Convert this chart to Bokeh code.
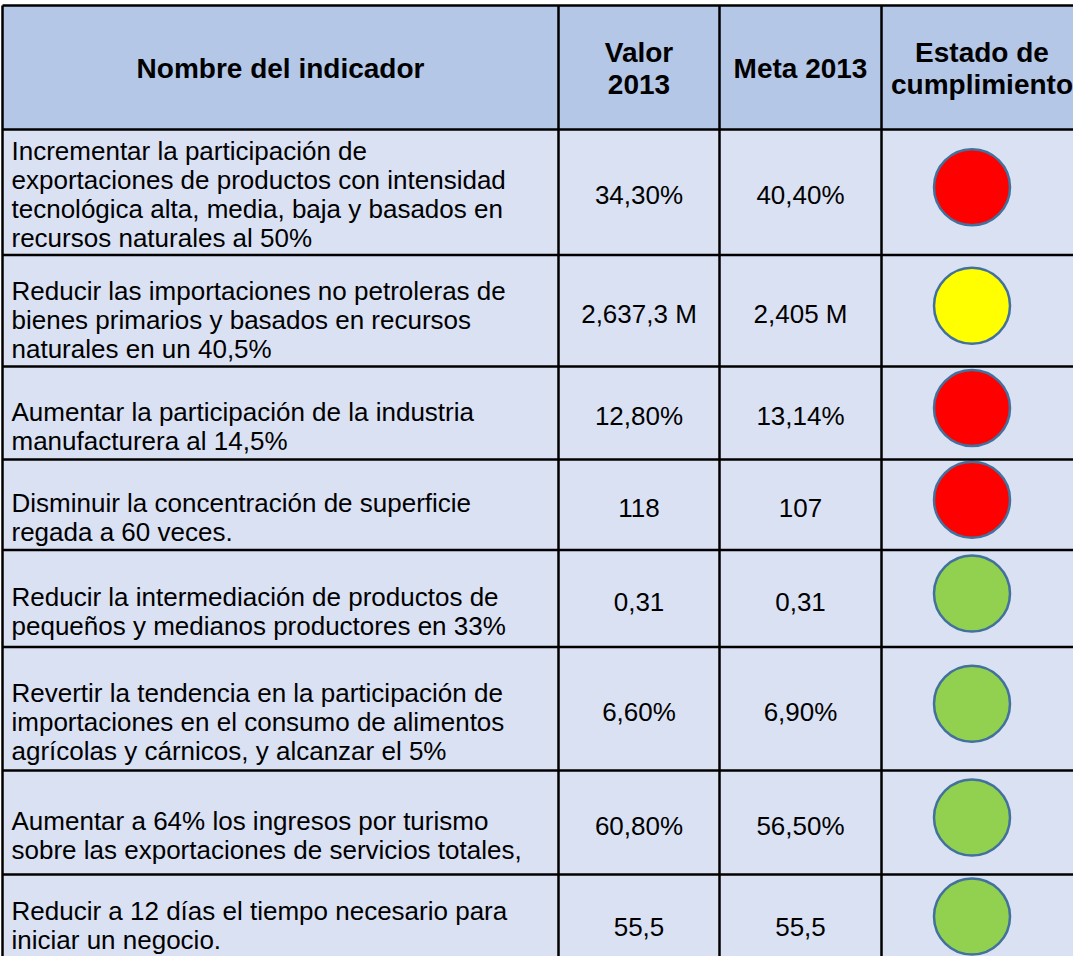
from bokeh.plotting import figure
from bokeh.models import Range1d
from bokeh.embed import file_html
from bokeh.resources import INLINE
from bokeh.core.properties import value

# ---------------- data ----------------
encabezados = ["Nombre del indicador", "Valor\n2013", "Meta 2013", "Estado de\ncumplimiento"]

indicadores = [
    "Incrementar la participación de\nexportaciones de productos con intensidad\ntecnológica alta, media, baja y basados en\nrecursos naturales al 50%",
    "Reducir las importaciones no petroleras de\nbienes primarios y basados en recursos\nnaturales en un 40,5%",
    "Aumentar la participación de la industria\nmanufacturera al 14,5%",
    "Disminuir la concentración de superficie\nregada a 60 veces.",
    "Reducir la intermediación de productos de\npequeños y medianos productores en 33%",
    "Revertir la tendencia en la participación de\nimportaciones en el consumo de alimentos\nagrícolas y cárnicos, y alcanzar el 5%",
    "Aumentar a 64% los ingresos por turismo\nsobre las exportaciones de servicios totales,",
    "Reducir a 12 días el tiempo necesario para\niniciar un negocio.",
]
valor_2013 = ["34,30%", "2,637,3 M", "12,80%", "118", "0,31", "6,60%", "60,80%", "55,5"]
meta_2013 = ["40,40%", "2,405 M", "13,14%", "107", "0,31", "6,90%", "56,50%", "55,5"]
estado = ["rojo", "amarillo", "rojo", "rojo", "verde", "verde", "verde", "verde"]

# ---------------- layout / style ----------------
col_edges = [10, 566, 727, 889, 1090]
row_edges = [13, 137, 262.5, 374, 467, 557.5, 654.5, 778, 882, 986]
estado_colores = {"rojo": "#FF0000", "amarillo": "#FFFF00", "verde": "#92D050"}
HEADER_FILL = "#B4C7E7"
BODY_FILL = "#DAE1F3"
FONT = "Liberation Sans"
BODY_SIZE = 26
HEAD_SIZE = 28
LH = 29
HEAD_LH = 32

W, H = 1073, 956
VIS_BOTTOM = 8 + H  # last visible page pixel row

p = figure(width=W, height=H, output_backend="svg", toolbar_location=None, tools="",
           x_range=Range1d(8, 8 + W), y_range=Range1d(8 + H, 8),
           x_axis_type=None, y_axis_type=None, min_border=0)
p.outline_line_color = None
p.grid.visible = False
p.background_fill_color = "white"
p.border_fill_color = "white"

# backgrounds
p.quad(left=[col_edges[0], col_edges[0]], right=[col_edges[-1], col_edges[-1]],
       top=[row_edges[0], row_edges[1]], bottom=[row_edges[1], row_edges[-1]],
       fill_color=[HEADER_FILL, BODY_FILL], line_color=None)

# header texts
hx, hy, ht = [], [], []
hcenter = (row_edges[0] + row_edges[1]) / 2
for j, h in enumerate(encabezados):
    cx = (col_edges[j] + col_edges[j + 1]) / 2
    lines = h.split("\n")
    n = len(lines)
    for i, ln in enumerate(lines):
        hx.append(cx)
        hy.append(hcenter + 1 + (i - (n - 1) / 2) * HEAD_LH)
        ht.append(ln)
p.text(x=hx, y=hy, text=ht, text_font=value(FONT), text_font_size=f"{HEAD_SIZE}px",
       text_font_style="bold", text_align="center", text_baseline="middle", text_color="black")

# body texts
bx, by, bt = [], [], []
vx, vy, vt = [], [], []
cxs, cys, ccols = [], [], []
for r in range(len(indicadores)):
    top, bot = row_edges[r + 1], row_edges[r + 2]
    rc = (top + bot) / 2
    lines = indicadores[r].split("\n")
    n = len(lines)
    slack = (bot - top) - n * LH
    off = min(13, max(slack, 0) / 2 - 3)
    ys_ = [rc + off + (i - (n - 1) / 2) * LH for i in range(n)]
    # keep the last line inside the visible page
    shift = max(0, ys_[-1] - (VIS_BOTTOM - 17))
    ys_ = [y - shift for y in ys_]
    for ln, y in zip(lines, ys_):
        bx.append(col_edges[0] + 9)
        by.append(y)
        bt.append(ln)
    vcy = min(rc + 3, VIS_BOTTOM - 30)
    for j, val in ((1, valor_2013[r]), (2, meta_2013[r])):
        vx.append((col_edges[j] + col_edges[j + 1]) / 2)
        vy.append(vcy)
        vt.append(val)
    cxs.append((col_edges[3] + col_edges[4]) / 2 - 10)
    cys.append(min(rc - 5, VIS_BOTTOM - 40))
    ccols.append(estado_colores[estado[r]])

p.text(x=bx, y=by, text=bt, text_font=value(FONT), text_font_size=f"{BODY_SIZE}px",
       text_align="left", text_baseline="middle", text_color="black")
p.text(x=vx, y=vy, text=vt, text_font=value(FONT), text_font_size=f"{BODY_SIZE}px",
       text_align="center", text_baseline="middle", text_color="black")

p.circle(x=cxs, y=cys, radius=38, fill_color=ccols, line_color="#41719C", line_width=2.5)

# grid lines
xs, ys = [], []
for y in row_edges[:-1]:
    xs.append([col_edges[0], col_edges[-1]])
    ys.append([y, y])
for x in col_edges:
    xs.append([x, x])
    ys.append([row_edges[0], row_edges[-1]])
p.multi_line(xs=xs, ys=ys, line_color="black", line_width=2.5)

open("out.html", "w").write(file_html(p, INLINE))
